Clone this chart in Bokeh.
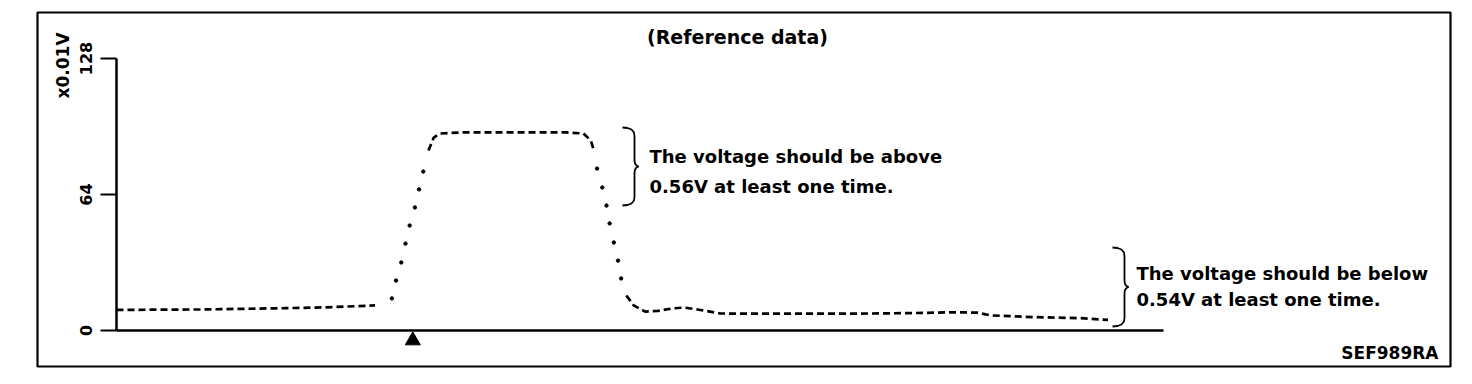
import math
from bokeh.plotting import figure
from bokeh.models import Range1d, LinearAxis, FixedTicker, Label
from bokeh.embed import file_html
from bokeh.resources import INLINE

# ---------------- data ----------------
# time axis in arbitrary units (0 .. 100 = length of the x axis)
t = [0, 8.0, 16.0, 20.0, 24.7,
     26.3, 26.7, 27.2, 27.6, 28.0, 28.5, 28.9, 29.3,
     29.8, 30.3, 30.9, 33.0, 38.0, 43.0, 44.6, 45.3, 45.6,
     45.9, 46.4, 46.8, 47.1, 47.5, 47.9, 48.2,
     48.7, 49.4, 50.5, 51.7, 53.1, 54.2, 55.5, 57.7, 62.0, 68.0, 72.0,
     76.1, 79.9, 82.2, 83.5, 87.6, 92.1, 94.7]
# voltage in units of 0.01 V
v = [9.7, 9.9, 10.5, 10.9, 11.8,
     15.1, 23.5, 32.0, 40.9, 49.4, 57.9, 66.4, 74.8,
     84.7, 90.8, 92.7, 93.2, 93.2, 93.2, 92.7, 89.4, 84.7,
     76.2, 67.3, 58.8, 50.4, 41.4, 32.9, 24.5,
     16.5, 11.8, 8.9, 9.2, 10.4, 10.8, 9.9, 8.0, 7.9, 7.9, 8.0,
     8.2, 8.6, 8.4, 7.1, 6.3, 5.8, 5.0]
y_ticks = [0, 64, 128]
y_tick_labels = {0: "0", 64: "64", 128: "128"}
trigger_t = [28.3]
title_text = "(Reference data)"
unit_text = "x0.01V"
note_above = ["The voltage should be above", "0.56V at least one time."]
note_below = ["The voltage should be below", "0.54V at least one time."]
code_text = "SEF989RA"

# ---------------- geometry helpers ----------------
X0, SX = 116.0, 10.47     # pixel of t=0, pixels per t unit
Y0, SY = 330.0, 2.125     # pixel of v=0, pixels per v unit
W, H = 1472, 384
BOX_L, BOX_R, BOX_T, BOX_B = 37, 1450, 12, 366


def dx(px):
    return (px - X0) / SX


def dy(py):
    return (Y0 - py) / SY


p = figure(width=W, height=H, output_backend="svg", toolbar_location=None,
           x_range=Range1d(dx(BOX_L), dx(BOX_R)),
           y_range=Range1d(dy(BOX_B), dy(BOX_T)),
           x_axis_type=None, y_axis_type=None,
           min_border_left=BOX_L, min_border_right=W - BOX_R,
           min_border_top=BOX_T, min_border_bottom=H - BOX_B)
p.grid.visible = False
p.background_fill_color = "white"
p.border_fill_color = "white"
p.outline_line_color = "black"
p.outline_line_width = 2.2

FONT = "DejaVu Sans"

# y axis
yax = LinearAxis(fixed_location=0, bounds=(0, 128),
                 ticker=FixedTicker(ticks=y_ticks),
                 major_label_overrides=y_tick_labels)
yax.axis_line_width = 2.5
yax.axis_line_color = "black"
yax.major_tick_out = 16
yax.major_tick_in = 0
yax.major_tick_line_width = 2
yax.major_tick_line_color = "black"
yax.minor_tick_line_color = None
yax.major_label_orientation = "vertical"
yax.major_label_standoff = 9
yax.major_label_text_font = FONT
yax.major_label_text_font_size = "16px"
yax.major_label_text_font_style = "bold"
yax.major_label_text_color = "black"
p.add_layout(yax, "left")

# x axis (line only)
xax = LinearAxis(fixed_location=0, bounds=(0, 100),
                 ticker=FixedTicker(ticks=[]))
xax.axis_line_width = 2.5
xax.axis_line_color = "black"
xax.major_tick_line_color = None
xax.minor_tick_line_color = None
xax.major_label_text_font_size = "0px"
p.add_layout(xax, "below")

# ---------------- curve ----------------
flat_parts = [(0, 5), (13, 22), (29, len(t))]
steep_parts = [(5, 13), (22, 29)]
for a, b in flat_parts:
    p.line(t[a:b], v[a:b], line_color="black", line_width=2.7, line_dash="7 4")
for a, b in steep_parts:
    p.scatter(t[a:b], v[a:b], marker="circle", size=3.4,
              fill_color="black", line_color="black")

# trigger marker
p.scatter(trigger_t, [dy(340)], marker="triangle", size=15,
          fill_color="black", line_color="black")


# ---------------- braces ----------------
def brace(left_px, top_px, height_px):
    m = height_px / 2.0
    pts = [(0, 0), (5, 0.5), (9, 2), (11.5, 5), (12, 9),
           (12, m - 6), (12.5, m - 3), (14, m - 1), (16, m),
           (14, m + 1), (12.5, m + 3), (12, m + 6),
           (12, height_px - 9), (11.5, height_px - 5), (9, height_px - 2),
           (5, height_px - 0.5), (0, height_px)]
    xs = [dx(left_px + a) for a, _ in pts]
    ys = [dy(top_px + b) for _, b in pts]
    p.line(xs, ys, line_color="black", line_width=1.8)


brace(622, 127, 78)
brace(1112, 247, 79)


# ---------------- texts ----------------
def label(text, px, py, size="18px", align="left", angle=0.0):
    p.add_layout(Label(x=dx(px), y=dy(py), text=text, text_font=FONT,
                       text_font_size=size, text_font_style="bold",
                       text_align=align, text_baseline="middle",
                       text_color="black", angle=angle))


label(title_text, 737, 36, size="19px", align="center")
label(unit_text, 62, 65, size="17px", align="center", angle=math.pi / 2)
label(note_above[0], 649, 156)
label(note_above[1], 649, 186)
label(note_below[0], 1136, 273)
label(note_below[1], 1136, 299)
label(code_text, 1438, 352, size="17px", align="right")

open("out.html", "w").write(file_html(p, INLINE))
